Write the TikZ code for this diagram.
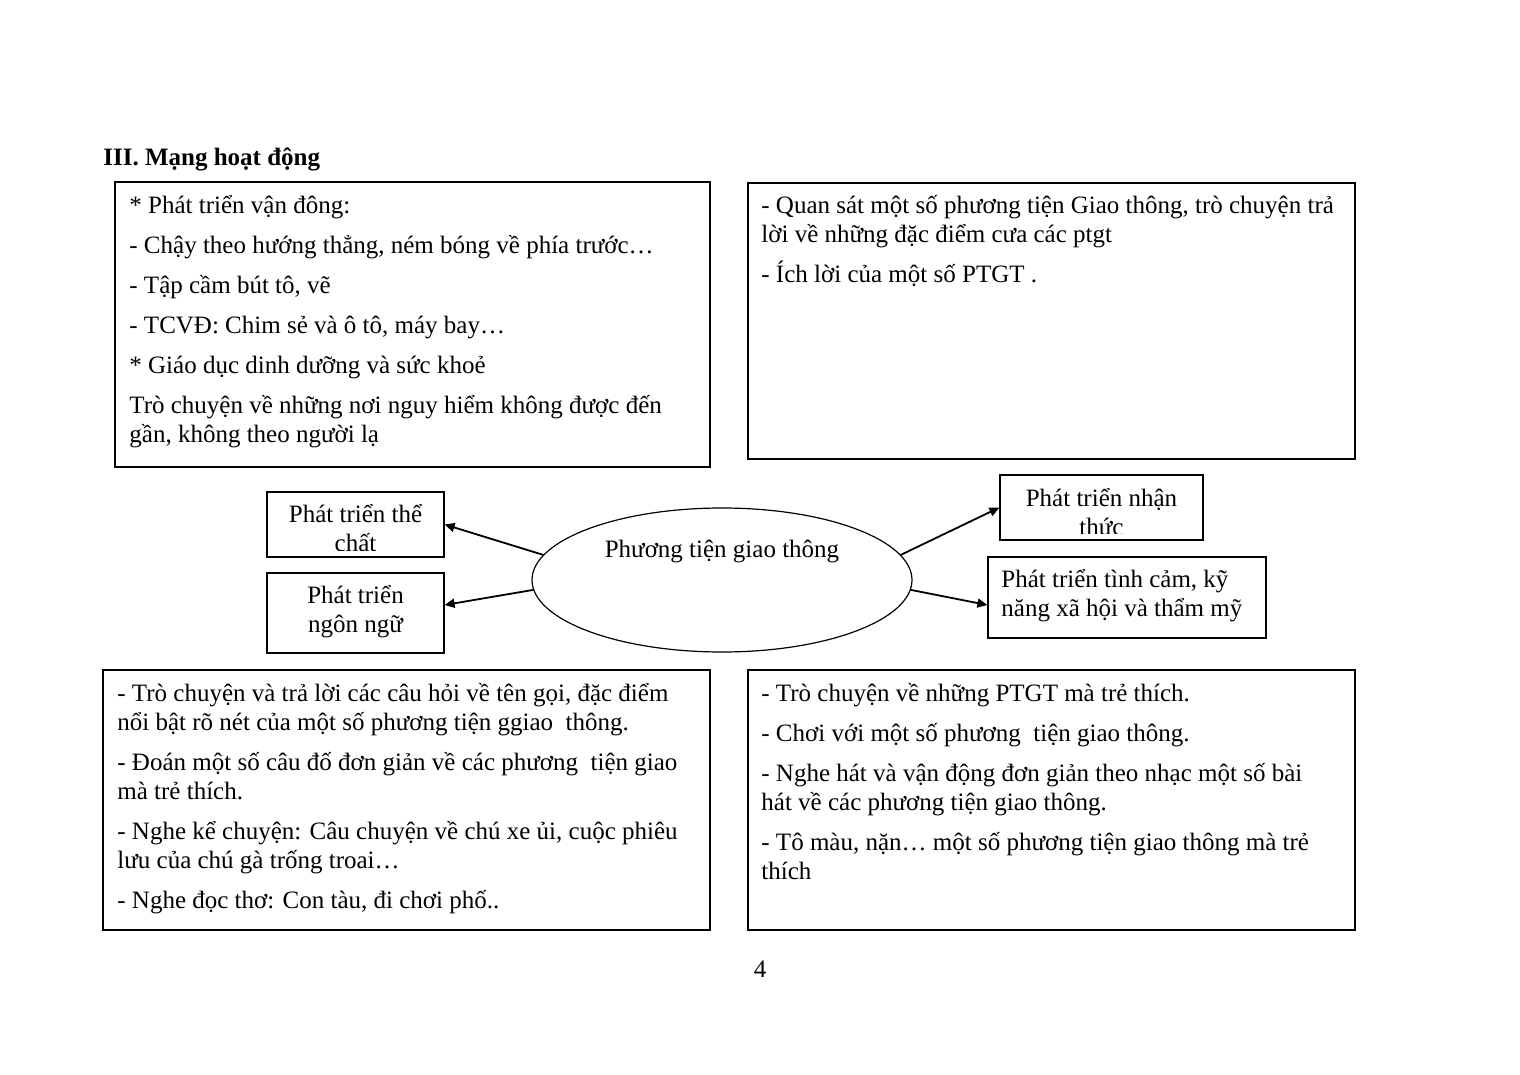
\documentclass[tikz,border=0pt]{standalone}
\usepackage{fontspec}
\setmainfont{Liberation Serif}
\usetikzlibrary{arrows.meta,shapes.geometric}
\begin{document}
\begin{tikzpicture}[x=0.5pt,y=-0.5pt,
  box/.style={draw,line width=0.6pt,rectangle,inner sep=0},
  txt/.style={anchor=north west,align=left,inner sep=0,font=\fontsize{12.5}{14.5}\selectfont},
  ctxt/.style={anchor=north,align=center,inner sep=0,font=\fontsize{12.5}{14.5}\selectfont},
  arr/.style={-{Triangle[length=5pt,width=4.5pt]},line width=0.9pt}]
\useasboundingbox (0,0) rectangle (1520,1075);
\newcommand{\fs}{\rule{0pt}{11pt}}
% title
\node[anchor=base west,inner sep=0,font=\fontsize{12.5}{14.5}\selectfont\bfseries] (title) at (103,166) {III. Mạng hoạt động};
% big boxes
\node[box,minimum width=297.5pt,minimum height=142.5pt] (tl) at (412.5,324.5) {};
\node[box,minimum width=303.5pt,minimum height=138pt] (tr) at (1051.5,321) {};
\node[box,minimum width=303.5pt,minimum height=130pt] (bl) at (406.5,800) {};
\node[box,minimum width=303.5pt,minimum height=130pt] (br) at (1051.5,800) {};
\node[txt] (tltext) at (129,191) {\fs* Phát triển vận đông:\\[5.5pt]
- Chậy theo hướng thẳng, ném bóng về phía trước…\\[5.5pt]
- Tập cầm bút tô, vẽ\\[5.5pt]
- TCVĐ: Chim sẻ và ô tô, máy bay…\\[5.5pt]
* Giáo dục dinh dưỡng và sức khoẻ\\[5.5pt]
Trò chuyện về những nơi nguy hiểm không được đến\\
gần, không theo người lạ};
\node[txt] (trtext) at (761,191) {\fs- Quan sát một số phương tiện Giao thông, trò chuyện trả\\
lời về những đặc điểm cưa các ptgt\\[5.5pt]
- Ích lời của một số PTGT .};
\node[txt] (bltext) at (117,679) {\fs- Trò chuyện và trả lời các câu hỏi về tên gọi, đặc điểm\\
nổi bật rõ nét của một số phương tiện ggiao\ \ thông.\\[5.5pt]
- Đoán một số câu đố đơn giản về các phương\ \ tiện giao\\
mà trẻ thích.\\[5.5pt]
- Nghe kể chuyện: Câu chuyện về chú xe ủi, cuộc phiêu\\
lưu của chú gà trống troai…\\[5.5pt]
- Nghe đọc thơ: Con tàu, đi chơi phố..};
\node[txt] (brtext) at (761,679) {\fs- Trò chuyện về những PTGT mà trẻ thích.\\[5.5pt]
- Chơi với một số phương\ \ tiện giao thông.\\[5.5pt]
- Nghe hát và vận động đơn giản theo nhạc một số bài\\
hát về các phương tiện giao thông.\\[5.5pt]
- Tô màu, nặn… một số phương tiện giao thông mà trẻ\\
thích};
% small boxes
\node[box,minimum width=88.5pt,minimum height=32.5pt] (pttc) at (355.5,524.5) {};
\node[box,minimum width=88.5pt,minimum height=40pt] (ptnn) at (355.5,613) {};
\node[box,minimum width=101.5pt,minimum height=32.5pt] (ptnt) at (1101.5,507.5) {};
\node[box,minimum width=139pt,minimum height=40.5pt] (pttcxh) at (1127,597.5) {};
\begin{scope}
\clip (267,492) rectangle (444,550);
\node[ctxt] (pttctext) at (355.5,500) {\fs Phát triển thể\\chất};
\end{scope}
\node[ctxt] (ptnntext) at (355.5,581) {\fs Phát triển\\ngôn ngữ};
\begin{scope}
\clip (1000,475) rectangle (1203,533);
\node[ctxt] (ptnttext) at (1101.5,484) {\fs Phát triển nhận\\thức};
\end{scope}
\node[txt] (pttcxhtext) at (1001,565) {\fs Phát triển tình cảm, kỹ\\năng xã hội và thẩm mỹ};
% centre
\node[ellipse,draw,line width=0.6pt,minimum width=190pt,minimum height=72pt,inner sep=0] (ell) at (722,580) {};
\node[anchor=base,inner sep=0,font=\fontsize{12.5}{14.5}\selectfont] (elltext) at (722,557) {Phương tiện giao thông};
% arrows
\draw[arr] (ell.172) -- (pttc.east);
\draw[arr] (ell.183) -- ([yshift=4pt]ptnn.east);
\draw[arr] (ell.8) -- (ptnt.west);
\draw[arr] (ell.-3) -- ([yshift=-3.75pt]pttcxh.west);
% page number
\node[inner sep=0,font=\fontsize{12.5}{14.5}\selectfont] (pg) at (760,969) {4};
\end{tikzpicture}
\end{document}
